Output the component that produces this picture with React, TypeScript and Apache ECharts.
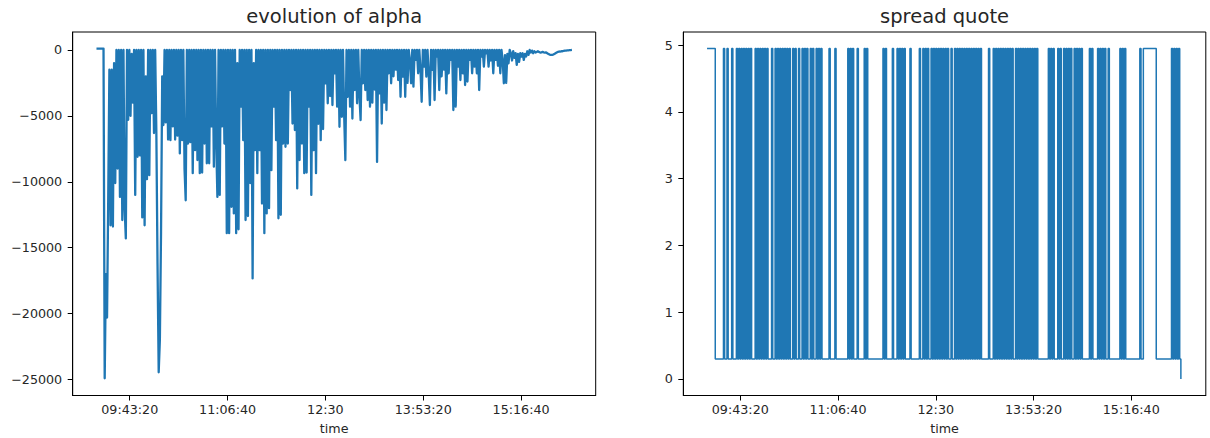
import React, { useEffect, useRef } from "react";
import * as echarts from "echarts";

// x tick positions (seconds since midnight) and their labels
const tickTimes = [35000, 40000, 45000, 50000, 55000];
const tickTimeLabels = ["09:43:20", "11:06:40", "12:30", "13:53:20", "15:16:40"];

const alphaTicks = [0, -5000, -10000, -15000, -20000, -25000];
const alphaTickLabels = ["0", "\u22125000", "\u221210000", "\u221215000", "\u221220000", "\u221225000"];

const spreadTicks = [0, 1, 2, 3, 4, 5];
const spreadTickLabels = ["0", "1", "2", "3", "4", "5"];

// sampling grid of the time index (09:15:00, one sample per minute)
const sampleStart = 33300;
const sampleStep = 60;

const alphaValues = [
  100, 100, 100, 100, 100, 100, 100, -24900, -17000, -20300,
  -11400, -1500, -13300, -1500, -13400, -1000, -10100, 0, -9000, 0,
  -11150, 0, -12900, 0, -12000, -14300, 0, -5300, 0, -5000,
  -300, -4000, 0, -11000, 0, -8100, 0, -8000, 0, -12700,
  0, -13300, -2000, -9800, 0, -9500, 0, -4800, 0, -6300,
  0, -6200, -16200, -24450, -22000, -13800, -2000, -5700, 0, -5500,
  0, -6800, 0, -6840, 0, -5800, 0, -6800, 0, -6500,
  0, -7850, 0, -6840, 0, -9000, -11400, 0, -7100, 0,
  -7000, 0, -9350, 0, -7600, 0, -8350, 0, -9350, 0,
  -9300, 0, -7100, 0, -8600, 0, -8600, 0, -5800, 0,
  -8850, 0, -7000, -11150, 0, -11000, 0, -5800, 0, -7100,
  0, -13900, 0, -13900, 0, -11900, 0, -12400, 0, -13900,
  -1000, -13600, 0, -4300, 0, -6840, 0, -12900, 0, -12600,
  0, -10100, 0, -17330, -1000, -7600, 0, -9350, 0, -7600,
  0, -11650, 0, -13900, 0, -12400, 0, -12000, 0, -9120,
  0, -4300, 0, -6840, 0, -12770, 0, -12500, 0, -7100,
  0, -7350, 0, -7100, 0, -3040, 0, -5580, 0, -6080,
  0, -10500, 0, -8350, 0, -7100, 0, -9350, 0, -9300,
  0, -4300, 0, -11000, 0, -7600, 0, -9350, 0, -5600,
  0, -6840, 0, -6000, 0, -2530, 0, -4050, 0, -3500,
  0, -4180, 0, -1770, 0, -4300, 0, -5830, 0, -5070,
  0, -5000, -8360, 0, -3550, 0, -4300, 0, -5200, 0,
  -3040, 0, -4050, 0, -3500, -5320, 0, -2530, 0, -3040,
  0, -3800, 0, -4300, 0, -4000, 0, -3000, 0, -8490,
  0, -3300, 0, -5580, 0, -4000, 0, -4560, 0, -1770,
  0, -2530, 0, -2000, 0, -1500, 0, -2280, 0, -3550,
  0, -2030, 0, -3550, 0, -2500, 0, -760, -2530, 0,
  -2790, 0, -760, 0, -1770, 0, -1500, -3930, 0, -1270,
  0, -2030, 0, -1800, -4180, 0, -1520, 0, -3800, 0,
  -510, 0, -3040, 0, -2000, 0, -1500, 0, -3300, 0,
  -1770, 0, -760, 0, -4560, 0, -4300, 0, -1270, 0,
  -2280, 0, -1770, 0, -2660, 0, -2400, 0, -760, 0,
  -1770, 0, -1270, 0, -1770, 0, -3040, 0, -510, 0,
  -1270, 0, -250, 0, -1270, 0, -800, 0, -1770, 0,
  -760, 0, -1200, 0, -1770, 0, -760, -2530, -400, -2500,
  -300, -1010, 0, -250, -800, -100, -600, -250, -1140, -300,
  -900, -250, -510, -250, -760, -300, -500, -100, -380, 0,
  -200, -50, -250, -100, -200, -150, -100, -150, -200, -180,
  -150, -180, -200, -180, -250, -300, -350, -380, -380, -350,
  -300, -250, -200, -150, -130, -120, -100, -100, -80, -60,
  -50, -40, -30, -20, -10, 0,
];

const spreadValues = [
  4.95, 4.95, 4.95, 4.95, 4.95, 4.95, 4.95, 0.3, 0.3, 0.3,
  0.3, 0.3, 0.3, 0.3, 4.95, 0.3, 0.3, 4.95, 0.3, 0.3,
  0.3, 4.95, 0.3, 0.3, 0.3, 4.95, 0.3, 4.95, 0.3, 4.95,
  0.3, 4.95, 0.3, 4.95, 0.3, 4.95, 0.3, 4.95, 0.3, 0.3,
  0.3, 4.95, 0.3, 4.95, 0.3, 4.95, 0.3, 4.95, 0.3, 4.95,
  0.3, 4.95, 0.3, 0.3, 0.3, 4.95, 0.3, 0.3, 4.95, 0.3,
  4.95, 0.3, 4.95, 0.3, 4.95, 0.3, 4.95, 0.3, 4.95, 0.3,
  4.95, 0.3, 0.3, 4.95, 0.3, 4.95, 0.3, 0.3, 4.95, 0.3,
  0.3, 4.95, 0.3, 4.95, 0.3, 4.95, 0.3, 0.3, 4.95, 0.3,
  4.95, 0.3, 0.3, 4.95, 0.3, 4.95, 0.3, 4.95, 0.3, 0.3,
  0.3, 0.3, 0.3, 0.3, 4.95, 0.3, 0.3, 0.3, 0.3, 4.95,
  0.3, 0.3, 0.3, 0.3, 0.3, 0.3, 0.3, 0.3, 0.3, 0.3,
  4.95, 0.3, 4.95, 0.3, 4.95, 0.3, 0.3, 0.3, 4.95, 0.3,
  0.3, 0.3, 0.3, 0.3, 4.95, 0.3, 4.95, 0.3, 0.3, 0.3,
  0.3, 0.3, 0.3, 0.3, 0.3, 0.3, 0.3, 0.3, 0.3, 0.3,
  4.95, 0.3, 4.95, 0.3, 0.3, 0.3, 0.3, 0.3, 4.95, 0.3,
  0.3, 0.3, 4.95, 0.3, 4.95, 0.3, 4.95, 0.3, 4.95, 0.3,
  0.3, 0.3, 0.3, 4.95, 0.3, 0.3, 0.3, 0.3, 0.3, 0.3,
  0.3, 4.95, 0.3, 0.3, 4.95, 0.3, 4.95, 0.3, 4.95, 0.3,
  0.3, 4.95, 0.3, 4.95, 0.3, 4.95, 0.3, 4.95, 0.3, 4.95,
  0.3, 4.95, 0.3, 4.95, 0.3, 4.95, 0.3, 0.3, 4.95, 0.3,
  0.3, 4.95, 0.3, 4.95, 0.3, 4.95, 0.3, 4.95, 0.3, 4.95,
  0.3, 4.95, 0.3, 4.95, 0.3, 4.95, 0.3, 4.95, 0.3, 4.95,
  0.3, 4.95, 0.3, 4.95, 0.3, 0.3, 0.3, 0.3, 0.3, 0.3,
  4.95, 0.3, 0.3, 0.3, 4.95, 0.3, 4.95, 0.3, 4.95, 0.3,
  4.95, 0.3, 4.95, 0.3, 4.95, 0.3, 4.95, 0.3, 4.95, 0.3,
  4.95, 0.3, 0.3, 4.95, 0.3, 4.95, 0.3, 4.95, 0.3, 4.95,
  0.3, 4.95, 0.3, 4.95, 0.3, 4.95, 0.3, 4.95, 0.3, 4.95,
  0.3, 4.95, 0.3, 0.3, 0.3, 0.3, 0.3, 0.3, 0.3, 0.3,
  0.3, 4.95, 0.3, 4.95, 0.3, 4.95, 0.3, 0.3, 0.3, 4.95,
  0.3, 4.95, 0.3, 0.3, 4.95, 0.3, 4.95, 0.3, 4.95, 0.3,
  4.95, 0.3, 0.3, 4.95, 0.3, 4.95, 0.3, 4.95, 0.3, 4.95,
  0.3, 0.3, 0.3, 0.3, 0.3, 0.3, 4.95, 0.3, 4.95, 0.3,
  0.3, 0.3, 0.3, 4.95, 0.3, 4.95, 0.3, 4.95, 0.3, 4.95,
  0.3, 0.3, 4.95, 0.3, 0.3, 0.3, 0.3, 0.3, 0.3, 0.3,
  0.3, 0.3, 4.95, 0.3, 4.95, 0.3, 4.95, 0.3, 0.3, 0.3,
  0.3, 0.3, 0.3, 0.3, 0.3, 0.3, 0.3, 0.3, 0.3, 4.95,
  0.3, 0.3, 4.95, 4.95, 4.95, 4.95, 4.95, 4.95, 4.95, 4.95,
  4.95, 4.95, 4.95, 0.3, 0.3, 0.3, 0.3, 0.3, 0.3, 0.3,
  0.3, 0.3, 0.3, 0.3, 0.3, 0.3, 4.95, 0.3, 4.95, 0.3,
  4.95, 0.3, 4.95, 0.3, 0,
];

const FONT = "DejaVu Sans";
const TEXT = "#262626";
const LINE = "#1f77b4";

const X_MIN = 32085;
const X_MAX = 58815;

function labelFor(values: number[], labels: string[], v: number): string {
  for (let i = 0; i < values.length; i++) {
    if (Math.abs(values[i] - v) < 1e-6) return labels[i];
  }
  return "";
}

function makeXAxis(gridIndex: number) {
  return {
    type: "value",
    gridIndex,
    min: X_MIN,
    max: X_MAX,
    axisLine: { show: true, onZero: false, lineStyle: { color: "#000", width: 1 } },
    axisTick: {
      show: true,
      inside: false,
      length: 5,
      customValues: tickTimes,
      lineStyle: { color: "#000", width: 1 },
    },
    axisLabel: {
      show: true,
      customValues: tickTimes,
      margin: 7,
      fontFamily: FONT,
      fontSize: 12.7,
      color: TEXT,
      formatter: (v: number) => labelFor(tickTimes, tickTimeLabels, v),
    },
    splitLine: { show: false },
  };
}

function makeYAxis(gridIndex: number, min: number, max: number, ticks: number[], labels: string[]) {
  return {
    type: "value",
    gridIndex,
    min,
    max,
    axisLine: { show: true, onZero: false, lineStyle: { color: "#000", width: 1 } },
    axisTick: {
      show: true,
      inside: false,
      length: 5,
      customValues: ticks,
      lineStyle: { color: "#000", width: 1 },
    },
    axisLabel: {
      show: true,
      customValues: ticks,
      margin: 10.5,
      fontFamily: FONT,
      fontSize: 12.7,
      color: TEXT,
      formatter: (v: number) => labelFor(ticks, labels, v),
    },
    splitLine: { show: false },
  };
}

export default function App() {
  const ref = useRef<HTMLDivElement>(null);

  useEffect(() => {
    document.body.style.margin = "0";
    if (!ref.current) return;
    const chart = echarts.init(ref.current, null, { renderer: "svg" });

    const alphaData = alphaValues.map((v, i) => [sampleStart + i * sampleStep, v]);
    const spreadData = spreadValues.map((v, i) => [sampleStart + i * sampleStep, v]);

    const grids = [
      { left: 72.7, top: 32, width: 523, height: 363.5 },
      { left: 683.3, top: 32, width: 522.5, height: 363.5 },
    ];

    chart.setOption({
      animation: false,
      backgroundColor: "#ffffff",
      grid: grids.map((g) => ({
        ...g,
        show: true,
        borderColor: "#000",
        borderWidth: 1,
        backgroundColor: "transparent",
        containLabel: false,
      })),
      xAxis: [makeXAxis(0), makeXAxis(1)],
      yAxis: [
        makeYAxis(0, -26210, 1360, alphaTicks, alphaTickLabels),
        makeYAxis(1, -0.2475, 5.1975, spreadTicks, spreadTickLabels),
      ],
      series: [
        {
          type: "line",
          name: "alpha",
          xAxisIndex: 0,
          yAxisIndex: 0,
          data: alphaData,
          symbol: "none",
          showSymbol: false,
          silent: true,
          lineStyle: { color: LINE, width: 2.3, join: "round" },
        },
        {
          type: "line",
          name: "spread",
          xAxisIndex: 1,
          yAxisIndex: 1,
          step: "end",
          data: spreadData,
          symbol: "none",
          showSymbol: false,
          silent: true,
          lineStyle: { color: LINE, width: 1.5 },
        },
      ],
      graphic: [
        {
          type: "text",
          x: 72.7 + 523 / 2,
          y: 16.8,
          style: {
            text: "evolution of alpha",
            font: `19.5px "${FONT}"`,
            fill: TEXT,
            textAlign: "center",
            textVerticalAlign: "middle",
          },
        },
        {
          type: "text",
          x: 683.3 + 522.5 / 2,
          y: 16.8,
          style: {
            text: "spread quote",
            font: `19.5px "${FONT}"`,
            fill: TEXT,
            textAlign: "center",
            textVerticalAlign: "middle",
          },
        },
        {
          type: "text",
          x: 72.7 + 523 / 2,
          y: 428,
          style: {
            text: "time",
            font: `12.7px "${FONT}"`,
            fill: TEXT,
            textAlign: "center",
            textVerticalAlign: "middle",
          },
        },
        {
          type: "text",
          x: 683.3 + 522.5 / 2,
          y: 428,
          style: {
            text: "time",
            font: `12.7px "${FONT}"`,
            fill: TEXT,
            textAlign: "center",
            textVerticalAlign: "middle",
          },
        },
      ],
    });

    return () => {
      chart.dispose();
    };
  }, []);

  return <div ref={ref} style={{ width: 1210, height: 438 }} />;
}
